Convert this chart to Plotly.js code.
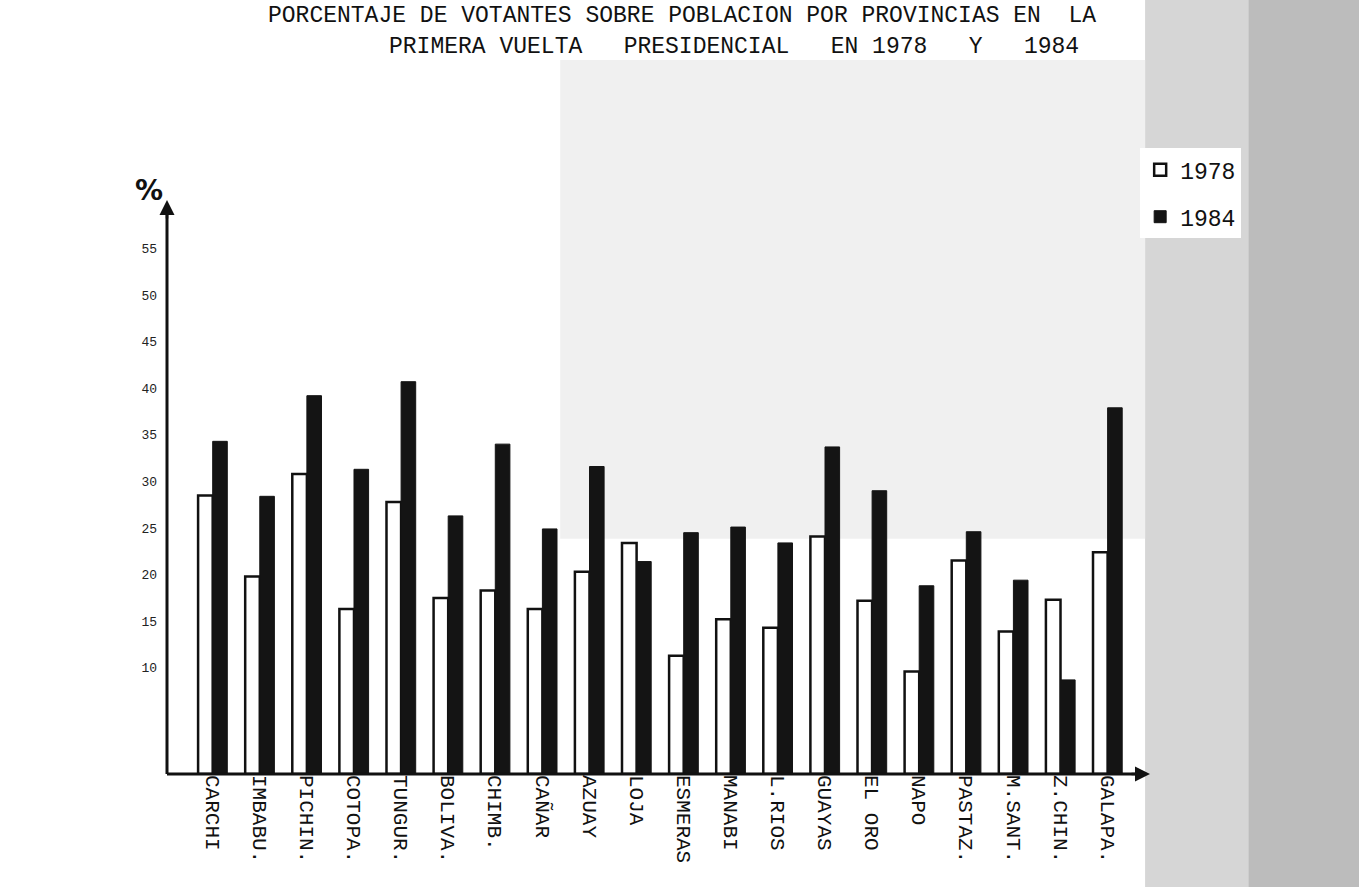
<!DOCTYPE html>
<html>
<head>
<meta charset="utf-8">
<script src="https://cdn.plot.ly/plotly-3.0.1.min.js"></script>
<style>html,body{margin:0;padding:0;background:#fff;}#chart{width:1359px;height:887px;}</style>
</head>
<body>
<div id="chart"></div>
<script>
const provincias = ["CARCHI", "IMBABU.", "PICHIN.", "COTOPA.", "TUNGUR.", "BOLIVA.", "CHIMB.", "CAÑAR", "AZUAY", "LOJA",
  "ESMERAS", "MANABI", "L.RIOS", "GUAYAS", "EL ORO", "NAPO", "PASTAZ.", "M.SANT.", "Z.CHIN.", "GALAPA."];
const votantes1978 = [29.9, 21.2, 32.2, 17.7, 29.2, 18.9, 19.7, 17.7, 21.7, 24.8,
  12.7, 16.6, 15.7, 25.5, 18.6, 11.0, 22.9, 15.3, 18.7, 23.8];
const votantes1984 = [35.7, 29.8, 40.6, 32.7, 42.1, 27.7, 35.4, 26.3, 33.0, 22.8,
  25.9, 26.5, 24.8, 35.1, 30.4, 20.2, 26.0, 20.8, 10.1, 39.3];
const yTicks = [10, 15, 20, 25, 30, 35, 40, 45, 50, 55];
const seriesNames = ["1978", "1984"];

const mono = "Liberation Mono, DejaVu Sans Mono, monospace";

const traces = [
  {type: "bar", name: seriesNames[0], x: provincias, y: votantes1978, legendgroup: "a",
   marker: {color: "#ffffff", line: {color: "#111", width: 2.5}}},
  {type: "bar", name: seriesNames[1], x: provincias, y: votantes1984, legendgroup: "b",
   marker: {color: "#141414", line: {color: "#141414", width: 1}}}
];

const layout = {
  width: 1359, height: 887,
  margin: {l: 167, r: 209, t: 200, b: 113, pad: 0},
  paper_bgcolor: "#ffffff", plot_bgcolor: "rgba(0,0,0,0)",
  barmode: "group", bargap: 0.38, bargroupgap: 0,
  showlegend: true,
  legend: {x: 0.99, y: 1.09, xanchor: "left", yanchor: "top", bgcolor: "#ffffff",
    font: {family: mono, size: 23, color: "#111"}, itemwidth: 30, tracegroupgap: 14},
  font: {family: mono, color: "#111"},
  xaxis: {type: "category", range: [-0.97, 19.9], tickangle: 90, showgrid: false,
    showline: false, zeroline: false, ticks: "", ticklen: 0,
    tickfont: {family: mono, size: 21, color: "#111"}},
  yaxis: {range: [0, 61.6], tickvals: yTicks, ticktext: yTicks.map(String), showgrid: false,
    zeroline: false, showline: false, ticks: "", ticklabelstandoff: 9, ticklabelshift: -13,
    tickfont: {family: mono, size: 13, color: "#222"}},
  shapes: [
    {type: "rect", xref: "paper", yref: "paper", x0: 0.995, x1: 1.1, y0: -0.2, y1: 1.35,
     fillcolor: "#d6d6d6", line: {width: 0}, layer: "below"},
    {type: "rect", xref: "paper", yref: "paper", x0: 1.1, x1: 1.22, y0: -0.2, y1: 1.35,
     fillcolor: "#bcbcbc", line: {width: 0}, layer: "below"},
    {type: "rect", xref: "paper", yref: "paper", x0: 0.4, x1: 0.995, y0: 0.41, y1: 1.244,
     fillcolor: "#f0f0f0", line: {width: 0}, layer: "below"},
    {type: "line", xref: "paper", yref: "paper", x0: 0, x1: 0, y0: 0, y1: 0.98,
     line: {color: "#111", width: 3}},
    {type: "line", xref: "paper", yref: "paper", x0: 0, x1: 0.995, y0: 0, y1: 0,
     line: {color: "#111", width: 3}}
  ],
  annotations: [
    {xref: "paper", yref: "paper", x: 0, y: 1.0, ax: 0, ay: 20, axref: "pixel", ayref: "pixel",
     showarrow: true, arrowhead: 2, arrowsize: 1.2, arrowwidth: 2.5, arrowcolor: "#111", text: ""},
    {xref: "paper", yref: "paper", x: 1.0, y: 0, ax: -20, ay: 0,
     showarrow: true, arrowhead: 2, arrowsize: 1.2, arrowwidth: 2.5, arrowcolor: "#111", text: ""},
    {xref: "paper", yref: "paper", x: -0.018, y: 1.017, xanchor: "center", yanchor: "middle",
     text: "<b>%</b>", showarrow: false, font: {family: "DejaVu Sans", size: 28, color: "#111"}},
    {xref: "paper", yref: "paper", x: 0.524, y: 1.3206, xanchor: "center", yanchor: "middle",
     text: "PORCENTAJE DE VOTANTES SOBRE POBLACION POR PROVINCIAS EN  LA", showarrow: false,
     font: {family: mono, size: 23, color: "#111"}},
    {xref: "paper", yref: "paper", x: 0.577, y: 1.2666, xanchor: "center", yanchor: "middle",
     text: "PRIMERA VUELTA   PRESIDENCIAL   EN 1978   Y   1984", showarrow: false,
     font: {family: mono, size: 23, color: "#111"}}
  ]
};

Plotly.newPlot("chart", traces, layout, {displayModeBar: false, staticPlot: true});
</script>
</body>
</html>
